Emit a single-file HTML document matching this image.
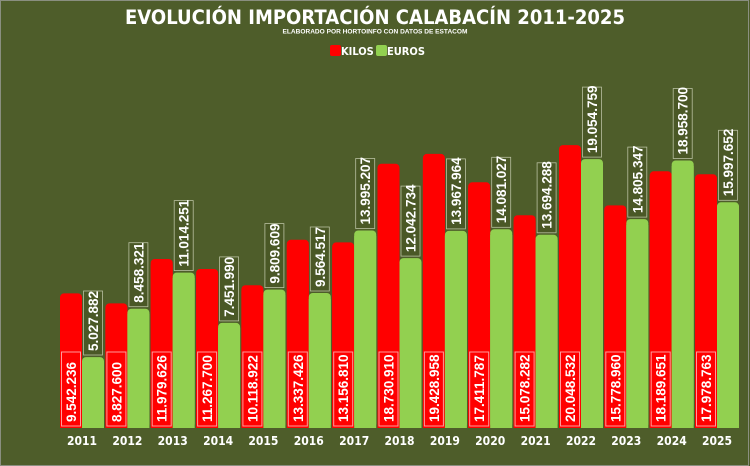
<!DOCTYPE html>
<html><head><meta charset="utf-8"><style>
html,body{margin:0;padding:0;background:#4e5d2a;}
svg{display:block;font-family:"Liberation Sans",sans-serif;}
.r{fill:#ff0000}
.g{fill:#92d050}
.rl{fill:none;stroke:#ff9a9a;stroke-width:1}
.gl{fill:#4a5826;stroke:#b8c0a0;stroke-width:0.8}
.t{fill:#fff;font-weight:bold;font-size:13.5px}
.y{fill:#fff;font-weight:bold;font-size:12px;text-anchor:middle;font-family:"DejaVu Sans Condensed","Liberation Sans Narrow",sans-serif}
</style></head><body>
<svg width="750" height="466" viewBox="0 0 750 466">
<rect x="0" y="0" width="750" height="466" fill="#4e5d2a"/>
<rect x="0.5" y="0.5" width="748" height="465" fill="none" stroke="#8a8f80" stroke-width="1"/>
<text x="375" y="24" text-anchor="middle" fill="#fff" font-weight="bold" font-size="19.5" style="font-family:'DejaVu Sans','Liberation Sans',sans-serif" textLength="500" lengthAdjust="spacingAndGlyphs">EVOLUCIÓN IMPORTACIÓN CALABACÍN 2011-2025</text>
<text x="375" y="33.5" text-anchor="middle" fill="#fff" font-weight="bold" font-size="6.5" textLength="185" lengthAdjust="spacingAndGlyphs">ELABORADO POR HORTOINFO CON DATOS DE ESTACOM</text>
<rect x="330" y="45" width="11" height="11" rx="2" fill="#ff0000"/>
<text x="341" y="55" fill="#fff" font-size="11" font-weight="bold" style="font-family:'DejaVu Sans Condensed','Liberation Sans Narrow',sans-serif">KILOS</text>
<rect x="376" y="45" width="11" height="11" rx="2" fill="#92d050"/>
<text x="387" y="55" fill="#fff" font-size="11" font-weight="bold" style="font-family:'DejaVu Sans Condensed','Liberation Sans Narrow',sans-serif">EUROS</text>

<g transform="translate(60,0)">
<rect class="r" x="0" y="293.4" width="22" height="134.6" rx="4"/><rect class="r" x="0" y="300" width="22" height="128"/>
<rect class="g" x="22" y="357.1" width="22" height="70.9" rx="4"/><rect class="g" x="22" y="362" width="22" height="66"/>
<rect class="rl" x="1.5" y="352" width="19" height="74"/>
<text class="t" transform="translate(11,422) rotate(-90)" y="5">9.542.236</text>
<rect class="gl" x="23.5" y="291" width="19" height="64"/>
<text class="t" transform="translate(33,351) rotate(-90)" y="5">5.027.882</text>
<text class="y" x="22" y="445">2011</text></g>

<g transform="translate(105.4,0)">
<rect class="r" x="0" y="303.4" width="22" height="124.6" rx="4"/><rect class="r" x="0" y="310" width="22" height="118"/>
<rect class="g" x="22" y="308.7" width="22" height="119.3" rx="4"/><rect class="g" x="22" y="314" width="22" height="114"/>
<rect class="rl" x="1.5" y="352" width="19" height="74"/>
<text class="t" transform="translate(11,422) rotate(-90)" y="5">8.827.600</text>
<rect class="gl" x="23.5" y="242.7" width="19" height="64"/>
<text class="t" transform="translate(33,302.7) rotate(-90)" y="5">8.458.321</text>
<text class="y" x="22" y="445">2012</text></g>

<g transform="translate(150.7,0)">
<rect class="r" x="0" y="259" width="22" height="169" rx="4"/><rect class="r" x="0" y="265" width="22" height="163"/>
<rect class="g" x="22" y="272.6" width="22" height="155.4" rx="4"/><rect class="g" x="22" y="278" width="22" height="150"/>
<rect class="rl" x="1.5" y="352" width="19" height="74"/>
<text class="t" transform="translate(11,422) rotate(-90)" y="5">11.979.626</text>
<rect class="gl" x="23.5" y="200.6" width="19" height="70"/>
<text class="t" transform="translate(33,266.6) rotate(-90)" y="5">11.014.251</text>
<text class="y" x="22" y="445">2013</text></g>

<g transform="translate(196.1,0)">
<rect class="r" x="0" y="269" width="22" height="159" rx="4"/><rect class="r" x="0" y="275" width="22" height="153"/>
<rect class="g" x="22" y="322.9" width="22" height="105.1" rx="4"/><rect class="g" x="22" y="328" width="22" height="100"/>
<rect class="rl" x="1.5" y="352" width="19" height="74"/>
<text class="t" transform="translate(11,422) rotate(-90)" y="5">11.267.700</text>
<rect class="gl" x="23.5" y="256.9" width="19" height="64"/>
<text class="t" transform="translate(33,316.9) rotate(-90)" y="5">7.451.990</text>
<text class="y" x="22" y="445">2014</text></g>

<g transform="translate(241.4,0)">
<rect class="r" x="0" y="285.2" width="22" height="142.8" rx="4"/><rect class="r" x="0" y="291" width="22" height="137"/>
<rect class="g" x="22" y="289.6" width="22" height="138.4" rx="4"/><rect class="g" x="22" y="295" width="22" height="133"/>
<rect class="rl" x="1.5" y="352" width="19" height="74"/>
<text class="t" transform="translate(11,422) rotate(-90)" y="5">10.118.922</text>
<rect class="gl" x="23.5" y="223.6" width="19" height="64"/>
<text class="t" transform="translate(33,283.6) rotate(-90)" y="5">9.809.609</text>
<text class="y" x="22" y="445">2015</text></g>

<g transform="translate(286.8,0)">
<rect class="r" x="0" y="239.8" width="22" height="188.2" rx="4"/><rect class="r" x="0" y="246" width="22" height="182"/>
<rect class="g" x="22" y="293" width="22" height="135" rx="4"/><rect class="g" x="22" y="299" width="22" height="129"/>
<rect class="rl" x="1.5" y="352" width="19" height="74"/>
<text class="t" transform="translate(11,422) rotate(-90)" y="5">13.337.426</text>
<rect class="gl" x="23.5" y="227" width="19" height="64"/>
<text class="t" transform="translate(33,287) rotate(-90)" y="5">9.564.517</text>
<text class="y" x="22" y="445">2016</text></g>

<g transform="translate(332.2,0)">
<rect class="r" x="0" y="242.4" width="22" height="185.6" rx="4"/><rect class="r" x="0" y="248" width="22" height="180"/>
<rect class="g" x="22" y="230.5" width="22" height="197.5" rx="4"/><rect class="g" x="22" y="236" width="22" height="192"/>
<rect class="rl" x="1.5" y="352" width="19" height="74"/>
<text class="t" transform="translate(11,422) rotate(-90)" y="5">13.156.810</text>
<rect class="gl" x="23.5" y="158.5" width="19" height="70"/>
<text class="t" transform="translate(33,224.5) rotate(-90)" y="5">13.995.207</text>
<text class="y" x="22" y="445">2017</text></g>

<g transform="translate(377.5,0)">
<rect class="r" x="0" y="163.7" width="22" height="264.3" rx="4"/><rect class="r" x="0" y="170" width="22" height="258"/>
<rect class="g" x="22" y="258.1" width="22" height="169.9" rx="4"/><rect class="g" x="22" y="264" width="22" height="164"/>
<rect class="rl" x="1.5" y="352" width="19" height="74"/>
<text class="t" transform="translate(11,422) rotate(-90)" y="5">18.730.910</text>
<rect class="gl" x="23.5" y="186.1" width="19" height="70"/>
<text class="t" transform="translate(33,252.1) rotate(-90)" y="5">12.042.734</text>
<text class="y" x="22" y="445">2018</text></g>

<g transform="translate(422.9,0)">
<rect class="r" x="0" y="153.9" width="22" height="274.1" rx="4"/><rect class="r" x="0" y="160" width="22" height="268"/>
<rect class="g" x="22" y="230.9" width="22" height="197.1" rx="4"/><rect class="g" x="22" y="236" width="22" height="192"/>
<rect class="rl" x="1.5" y="352" width="19" height="74"/>
<text class="t" transform="translate(11,422) rotate(-90)" y="5">19.428.958</text>
<rect class="gl" x="23.5" y="158.9" width="19" height="70"/>
<text class="t" transform="translate(33,224.9) rotate(-90)" y="5">13.967.964</text>
<text class="y" x="22" y="445">2019</text></g>

<g transform="translate(468.2,0)">
<rect class="r" x="0" y="182.3" width="22" height="245.7" rx="4"/><rect class="r" x="0" y="188" width="22" height="240"/>
<rect class="g" x="22" y="229.3" width="22" height="198.7" rx="4"/><rect class="g" x="22" y="235" width="22" height="193"/>
<rect class="rl" x="1.5" y="352" width="19" height="74"/>
<text class="t" transform="translate(11,422) rotate(-90)" y="5">17.411.787</text>
<rect class="gl" x="23.5" y="157.3" width="19" height="70"/>
<text class="t" transform="translate(33,223.3) rotate(-90)" y="5">14.081.027</text>
<text class="y" x="22" y="445">2020</text></g>

<g transform="translate(513.6,0)">
<rect class="r" x="0" y="215.2" width="22" height="212.8" rx="4"/><rect class="r" x="0" y="221" width="22" height="207"/>
<rect class="g" x="22" y="234.8" width="22" height="193.2" rx="4"/><rect class="g" x="22" y="240" width="22" height="188"/>
<rect class="rl" x="1.5" y="352" width="19" height="74"/>
<text class="t" transform="translate(11,422) rotate(-90)" y="5">15.078.282</text>
<rect class="gl" x="23.5" y="162.8" width="19" height="70"/>
<text class="t" transform="translate(33,228.8) rotate(-90)" y="5">13.694.288</text>
<text class="y" x="22" y="445">2021</text></g>

<g transform="translate(559,0)">
<rect class="r" x="0" y="145.1" width="22" height="282.9" rx="4"/><rect class="r" x="0" y="151" width="22" height="277"/>
<rect class="g" x="22" y="159.1" width="22" height="268.9" rx="4"/><rect class="g" x="22" y="165" width="22" height="263"/>
<rect class="rl" x="1.5" y="352" width="19" height="74"/>
<text class="t" transform="translate(11,422) rotate(-90)" y="5">20.048.532</text>
<rect class="gl" x="23.5" y="87.1" width="19" height="70"/>
<text class="t" transform="translate(33,153.1) rotate(-90)" y="5">19.054.759</text>
<text class="y" x="22" y="445">2022</text></g>

<g transform="translate(604.3,0)">
<rect class="r" x="0" y="205.4" width="22" height="222.6" rx="4"/><rect class="r" x="0" y="211" width="22" height="217"/>
<rect class="g" x="22" y="219.1" width="22" height="208.9" rx="4"/><rect class="g" x="22" y="225" width="22" height="203"/>
<rect class="rl" x="1.5" y="352" width="19" height="74"/>
<text class="t" transform="translate(11,422) rotate(-90)" y="5">15.778.960</text>
<rect class="gl" x="23.5" y="147.1" width="19" height="70"/>
<text class="t" transform="translate(33,213.1) rotate(-90)" y="5">14.805.347</text>
<text class="y" x="22" y="445">2023</text></g>

<g transform="translate(649.7,0)">
<rect class="r" x="0" y="171.3" width="22" height="256.7" rx="4"/><rect class="r" x="0" y="177" width="22" height="251"/>
<rect class="g" x="22" y="160.5" width="22" height="267.5" rx="4"/><rect class="g" x="22" y="166" width="22" height="262"/>
<rect class="rl" x="1.5" y="352" width="19" height="74"/>
<text class="t" transform="translate(11,422) rotate(-90)" y="5">18.189.651</text>
<rect class="gl" x="23.5" y="88.5" width="19" height="70"/>
<text class="t" transform="translate(33,154.5) rotate(-90)" y="5">18.958.700</text>
<text class="y" x="22" y="445">2024</text></g>

<g transform="translate(695,0)">
<rect class="r" x="0" y="174.3" width="22" height="253.7" rx="4"/><rect class="r" x="0" y="180" width="22" height="248"/>
<rect class="g" x="22" y="202.3" width="22" height="225.7" rx="4"/><rect class="g" x="22" y="208" width="22" height="220"/>
<rect class="rl" x="1.5" y="352" width="19" height="74"/>
<text class="t" transform="translate(11,422) rotate(-90)" y="5">17.978.763</text>
<rect class="gl" x="23.5" y="130.3" width="19" height="70"/>
<text class="t" transform="translate(33,196.3) rotate(-90)" y="5">15.997.652</text>
<text class="y" x="22" y="445">2025</text></g>
</svg>
</body></html>
